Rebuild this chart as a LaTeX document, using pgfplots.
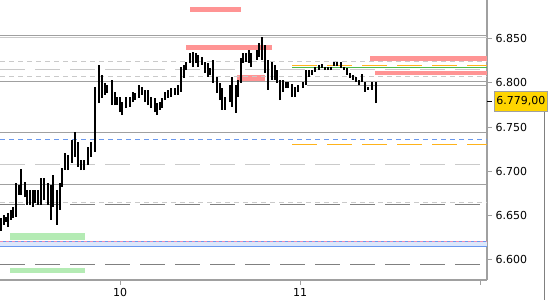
\documentclass[border=0pt]{standalone}
\usepackage{fontspec}
\setmainfont{DejaVu Sans}
\usepackage{pgfplots}
\usepackage{pgfplotstable}
\pgfplotsset{compat=1.18}
\definecolor{gA}{HTML}{A0A0A0}
\definecolor{gL}{HTML}{CACACA}
\definecolor{gD}{HTML}{808080}
\definecolor{bl}{HTML}{6A98EE}
\definecolor{blf}{HTML}{DCE7FB}
\definecolor{pk}{HTML}{F08CB4}
\definecolor{rd}{HTML}{FF9494}
\definecolor{gr}{HTML}{B4EBB4}
\definecolor{og}{HTML}{FFB31A}
\definecolor{gn}{HTML}{4CBB4C}
\definecolor{gold}{HTML}{FFD500}

\pgfplotstableread{
d lo hi
9.3376 6.6321 6.6468
9.3542 6.6389 6.6502
9.3653 6.6423 6.6480
9.3764 6.6366 6.6525
9.3931 6.6446 6.6559
9.4042 6.6468 6.6593
9.4209 6.6480 6.6865
9.4376 6.6729 6.6842
9.4487 6.6729 6.7024
9.4709 6.6706 6.6876
9.4820 6.6616 6.6786
9.4987 6.6616 6.6786
9.5153 6.6593 6.6786
9.5264 6.6638 6.6786
9.5431 6.6616 6.6786
9.5598 6.6616 6.6922
9.5764 6.6672 6.6922
9.5987 6.6616 6.6865
9.6153 6.6446 6.6842
9.6264 6.6593 6.6956
9.6487 6.6389 6.6786
9.6653 6.6559 6.6865
9.6764 6.6820 6.7035
9.6931 6.7012 6.7205
9.7098 6.7012 6.7183
9.7320 6.7092 6.7353
9.7487 6.7160 6.7443
9.7653 6.7047 6.7330
9.7820 6.7012 6.7126
9.7987 6.7012 6.7126
9.8209 6.7069 6.7273
9.8376 6.7160 6.7330
9.8598 6.7217 6.7954
9.8820 6.7772 6.8203
9.8987 6.7829 6.8090
9.9153 6.7863 6.7999
9.9264 6.7886 6.7976
9.9542 6.7749 6.8033
9.9709 6.7749 6.7897
9.9820 6.7749 6.7840
9.9987 6.7670 6.7840
10.0098 6.7636 6.7783
10.0320 6.7715 6.7840
10.0542 6.7727 6.7840
10.0709 6.7783 6.7897
10.0820 6.7806 6.7886
10.1042 6.7829 6.7976
10.1209 6.7863 6.7954
10.1376 6.7783 6.7920
10.1542 6.7749 6.7920
10.1709 6.7715 6.7840
10.1931 6.7670 6.7829
10.2042 6.7636 6.7772
10.2209 6.7693 6.7783
10.2320 6.7715 6.7829
10.2487 6.7806 6.7897
10.2653 6.7829 6.7920
10.2820 6.7840 6.7942
10.3042 6.7863 6.7942
10.3209 6.7863 6.7976
10.3376 6.7897 6.8180
10.3542 6.8056 6.8203
10.3653 6.8146 6.8237
10.3876 6.8226 6.8339
10.4042 6.8180 6.8350
10.4209 6.8226 6.8339
10.4320 6.8180 6.8316
10.4542 6.8203 6.8294
10.4709 6.8112 6.8237
10.4876 6.8067 6.8226
10.4987 6.8090 6.8169
10.5153 6.7999 6.8260
10.5376 6.7886 6.8067
10.5542 6.7806 6.7999
10.5653 6.7693 6.7942
10.5820 6.7693 6.7840
10.6098 6.7783 6.7976
10.6209 6.7727 6.8067
10.6431 6.7659 6.7976
10.6542 6.7840 6.8033
10.6709 6.7999 6.8282
10.6820 6.8226 6.8339
10.6987 6.8237 6.8339
10.7153 6.8226 6.8373
10.7264 6.8180 6.8339
10.7598 6.8260 6.8373
10.7709 6.8294 6.8452
10.7876 6.8260 6.8520
10.8042 6.8112 6.8430
10.8209 6.7920 6.8260
10.8431 6.8033 6.8237
10.8598 6.8033 6.8203
10.8709 6.7999 6.8146
10.8876 6.7806 6.8033
10.9042 6.7897 6.8033
10.9209 6.7942 6.8010
10.9320 6.7942 6.8010
10.9542 6.7840 6.7988
10.9709 6.7840 6.7954
10.9876 6.7897 6.7976
11.0153 6.7942 6.8010
11.0320 6.7976 6.8146
11.0487 6.8067 6.8146
11.0653 6.8090 6.8146
11.0820 6.8124 6.8180
11.1042 6.8146 6.8203
11.1209 6.8169 6.8214
11.1376 6.8146 6.8180
11.1542 6.8146 6.8180
11.1709 6.8146 6.8180
11.1876 6.8192 6.8237
11.2042 6.8192 6.8237
11.2264 6.8169 6.8237
11.2431 6.8146 6.8180
11.2598 6.8090 6.8169
11.2764 6.8056 6.8112
11.2931 6.8033 6.8090
11.3098 6.8010 6.8067
11.3264 6.7976 6.8033
11.3431 6.8010 6.8101
11.3598 6.7897 6.8010
11.3764 6.7920 6.7954
11.3987 6.7920 6.8010
11.4209 6.7772 6.8010
}\bars

\begin{document}
\begin{tikzpicture}
\path[use as bounding box] (0,0) rectangle (550pt,300pt);
\draw[gD, line width=0.8pt] (544pt,0pt) -- (544pt,188pt);
\begin{axis}[
  at={(0pt,20pt)}, anchor=south west,
  scale only axis, width=487pt, height=280pt,
  xmin=9.332, xmax=12.0375, ymin=6.57653, ymax=6.89399,
  clip=false,
  axis x line*=bottom, axis y line*=right,
  axis line style={draw=gA, line width=1.5pt},
  xtick={10,11,12}, xticklabels={10,11,{}},
  ytick={6.6,6.65,6.7,6.75,6.8,6.85},
  tick align=outside, major tick length=5pt,
  tick style={draw=gA, line width=0.8pt},
  yticklabel style={font=\fontsize{11}{13}\selectfont, text=black,
    /pgf/number format/.cd, fixed, fixed zerofill, precision=3, 1000 sep={}, assume math mode=true},
  xticklabel style={font=\fontsize{11}{13}\selectfont, text=black,
    /pgf/number format/assume math mode=true},
]
% bands
\addplot[fill=rd, draw=none] coordinates {(10.3876,6.8804) (10.6709,6.8804) (10.6709,6.8861) (10.3876,6.8861)} --cycle;
\addplot[fill=rd, draw=none] coordinates {(10.3653,6.8373) (10.8431,6.8373) (10.8431,6.8430) (10.3653,6.8430)} --cycle;
\addplot[fill=rd, draw=none] coordinates {(10.6487,6.8022) (10.8042,6.8022) (10.8042,6.8090) (10.6487,6.8090)} --cycle;
\addplot[fill=rd, draw=none] coordinates {(11.3876,6.8248) (12.0375,6.8248) (12.0375,6.8305) (11.3876,6.8305)} --cycle;
\addplot[fill=rd, draw=none] coordinates {(11.4153,6.8090) (12.0375,6.8090) (12.0375,6.8135) (11.4153,6.8135)} --cycle;
\addplot[fill=gr, draw=none] coordinates {(9.3876,6.6219) (9.8042,6.6219) (9.8042,6.6298) (9.3876,6.6298)} --cycle;
\addplot[fill=gr, draw=none] coordinates {(9.3876,6.5844) (9.8042,6.5844) (9.8042,6.5901) (9.3876,6.5901)} --cycle;
\addplot[fill=blf, draw=none] coordinates {(9.332,6.6147) (12.0375,6.6147) (12.0375,6.6204) (9.332,6.6204)} --cycle;
% horizontal lines
\addplot[gA, line width=1pt] coordinates {(9.332,6.8543) (12.0375,6.8543)};
\addplot[gL, line width=1pt] coordinates {(9.332,6.8516) (12.0375,6.8516)};
\addplot[gL, line width=1pt, dash pattern=on 5pt off 4pt] coordinates {(9.332,6.8245) (12.0375,6.8245)};
\addplot[gL, line width=1pt, dash pattern=on 25pt off 10pt] coordinates {(9.332,6.8154) (12.0375,6.8154)};
\addplot[gL, line width=1pt, dash pattern=on 5pt off 4pt] coordinates {(9.332,6.8075) (12.0375,6.8075)};
\addplot[gA, line width=1pt] coordinates {(9.332,6.8021) (12.0375,6.8021)};
\addplot[gA, line width=1pt] coordinates {(11.0376,6.7975) (12.0375,6.7975)};
\addplot[og, line width=1pt, dash pattern=on 25pt off 10pt] coordinates {(10.9542,6.8200) (12.0375,6.8200)};
\addplot[gn, line width=1pt] coordinates {(10.9542,6.8177) (12.0375,6.8177)};
\addplot[gA, line width=1pt] coordinates {(9.332,6.7440) (12.0375,6.7440)};
\addplot[bl, line width=1pt, dash pattern=on 5pt off 4pt] coordinates {(9.332,6.7360) (12.0375,6.7360)};
\addplot[og, line width=1pt, dash pattern=on 25pt off 10pt] coordinates {(10.9542,6.7304) (12.0375,6.7304)};
\addplot[gL, line width=1pt, dash pattern=on 25pt off 10pt] coordinates {(9.332,6.7077) (12.0375,6.7077)};
\addplot[gA, line width=1pt] coordinates {(9.332,6.6850) (12.0375,6.6850)};
\addplot[gL, line width=1pt, dash pattern=on 5pt off 4pt] coordinates {(9.332,6.6646) (12.0375,6.6646)};
\addplot[gD, line width=1pt, dash pattern=on 25pt off 10pt] coordinates {(9.332,6.6616) (12.0375,6.6616)};
\addplot[bl, line width=1pt] coordinates {(9.332,6.6204) (12.0375,6.6204)};
\addplot[pk, line width=1pt, dash pattern=on 3pt off 3pt] coordinates {(9.332,6.6204) (12.0375,6.6204)};
\addplot[bl, line width=1pt] coordinates {(9.332,6.6147) (12.0375,6.6147)};
\addplot[gD, line width=1pt, dash pattern=on 25pt off 10pt] coordinates {(9.332,6.5943) (12.0375,6.5943)};
% price bars (high-low ranges)
\addplot[black, line width=2.5pt, -,
  quiver={u=0, v=\thisrow{hi}-\thisrow{lo}}]
  table[x=d, y=lo] {\bars};
% last price marker
\draw[black, line width=0.8pt] (axis cs:12.0375,6.779) -- ([xshift=5pt]axis cs:12.0375,6.779);
\node[anchor=west, fill=gold, draw=gA, line width=0.8pt, inner sep=0pt,
  minimum width=53pt, minimum height=20pt, font=\fontsize{11}{13}\selectfont]
  at ([xshift=7pt]axis cs:12.0375,6.779) {6.779,00};
\end{axis}
\end{tikzpicture}
\end{document}
